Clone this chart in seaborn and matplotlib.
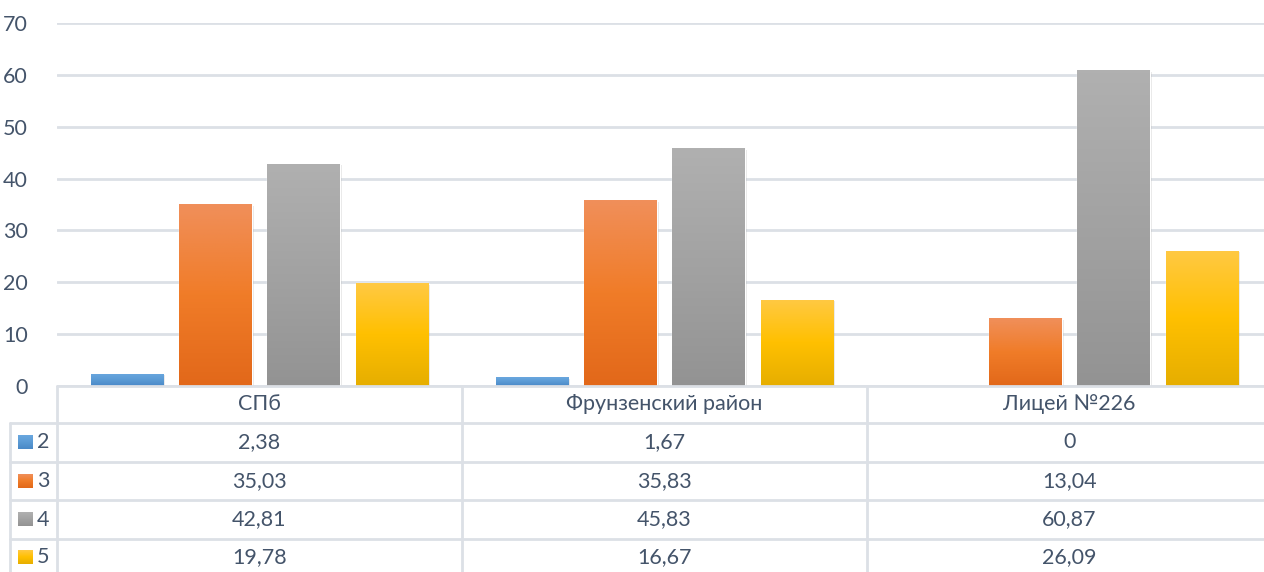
import numpy as np
import pandas as pd
import matplotlib
matplotlib.use("Agg")
import matplotlib.pyplot as plt
import matplotlib.patheffects as pe
import seaborn as sns
from matplotlib.colors import to_rgb

categories = ["СПб", "Фрунзенский район", "Лицей №226"]
series_names = ["2", "3", "4", "5"]
v2 = [2.38, 1.67, 0]
v3 = [35.03, 35.83, 13.04]
v4 = [42.81, 45.83, 60.87]
v5 = [19.78, 16.67, 26.09]
yticks = [0, 10, 20, 30, 40, 50, 60, 70]

values = [v2, v3, v4, v5]
rows = []
for s, vals in zip(series_names, values):
    for c, v in zip(categories, vals):
        rows.append({"cat": c, "series": s, "val": v})
df = pd.DataFrame(rows)

# gradient stops (top, mid, bottom)
grad = {
    "2": ["#6AA7DF", "#5B9BD5", "#4A89C7"],
    "3": ["#F08F5A", "#F07C28", "#E2681A"],
    "4": ["#B0B0B0", "#A2A2A2", "#939393"],
    "5": ["#FFC943", "#FFC000", "#E6AE00"],
}
palette = {k: v[1] for k, v in grad.items()}

sns.set_theme(style="white")
plt.rcParams["font.family"] = ["Lato", "DejaVu Sans"]
TXT = "#44546A"
GRID = "#DCE0E6"
FS = 15.5

W, H = 1264, 572
fig = plt.figure(figsize=(W / 100, H / 100), dpi=100)
ax_l, ax_r, ax_t, ax_b = 57, 1272, 23, 386
ax = fig.add_axes([ax_l / W, (H - ax_b) / H, (ax_r - ax_l) / W, (ax_b - ax_t) / H])

sns.barplot(data=df, x="cat", y="val", hue="series", order=categories,
            hue_order=series_names, palette=palette, width=0.871, gap=0.18,
            ax=ax, legend=False, saturation=1)

ax.set_xlim(-0.5, 2.5)
ax.set_ylim(0, 70)
ax.set_yticks(yticks)
ax.set_yticklabels([str(t) for t in yticks], color=TXT, fontsize=FS)
ax.tick_params(axis="y", length=0, pad=21)
ax.set_xticks([])
ax.set_xlabel("")
ax.set_ylabel("")
for sp in ax.spines.values():
    sp.set_visible(False)
ax.yaxis.grid(True, color=GRID, linewidth=2)
ax.set_axisbelow(True)

def gradient_img(stops, n=100):
    cols = [np.array(to_rgb(c)) for c in stops]
    t = np.linspace(0, 1, n)[:, None]
    img = np.where(t < 0.5,
                   cols[0] * (1 - t / 0.5) + cols[1] * (t / 0.5),
                   cols[1] * (1 - (t - 0.5) / 0.5) + cols[2] * ((t - 0.5) / 0.5))
    return img.reshape(n, 1, 3)

for s, cont in zip(series_names, ax.containers):
    img = gradient_img(grad[s])
    for p in cont:
        x, y = p.get_x(), p.get_y()
        w, h = p.get_width(), p.get_height()
        if h <= 0:
            continue
        p.set_path_effects([pe.SimplePatchShadow(offset=(1.5, -1.0),
                                                 shadow_rgbFace="#000000",
                                                 alpha=0.10), pe.Normal()])
        im = ax.imshow(img, extent=[x, x + w, y, y + h], aspect="auto",
                       origin="upper", zorder=p.get_zorder() + 0.1)
        im.set_clip_path(p)

ax.set_xlim(-0.5, 2.5)
ax.set_ylim(0, 70)

# ---- data table drawn in pixel coordinates ----
tx = fig.add_axes([0, 0, 1, 1])
tx.set_xlim(0, W)
tx.set_ylim(H, 0)
tx.axis("off")
tx.patch.set_alpha(0)

row_y = [386, 423, 462, 500, 539, 580]
col_x = [57, 462, 867, 1272]
lw = 2
tx.plot([57, 1272], [386, 386], color=GRID, lw=lw)
for yy in row_y[1:5]:
    tx.plot([10, 1272], [yy, yy], color=GRID, lw=lw)
tx.plot([10, 10], [423, 580], color=GRID, lw=lw)
for xx in col_x[:3]:
    tx.plot([xx, xx], [386, 580], color=GRID, lw=lw)

for i, c in enumerate(categories):
    cx = (col_x[i] + col_x[i + 1]) / 2
    tx.text(cx, (row_y[0] + row_y[1]) / 2, c, ha="center", va="center",
            color=TXT, fontsize=FS)

def fmt(v):
    if v == 0:
        return "0"
    return f"{v:.2f}".replace(".", ",")

for r, (s, vals) in enumerate(zip(series_names, values)):
    cy = (row_y[r + 1] + row_y[r + 2]) / 2 if r < 3 else 557
    img = gradient_img(grad[s])
    tx.imshow(img, extent=[18, 33, cy + 7, cy - 7], aspect="auto", origin="upper")
    tx.text(37, cy, s, ha="left", va="center", color=TXT, fontsize=FS)
    for i, v in enumerate(vals):
        cx = (col_x[i] + col_x[i + 1]) / 2
        tx.text(cx, cy, fmt(v), ha="center", va="center", color=TXT, fontsize=FS)

tx.set_xlim(0, W)
tx.set_ylim(H, 0)

fig.savefig("out.png", dpi=100, facecolor="white")
